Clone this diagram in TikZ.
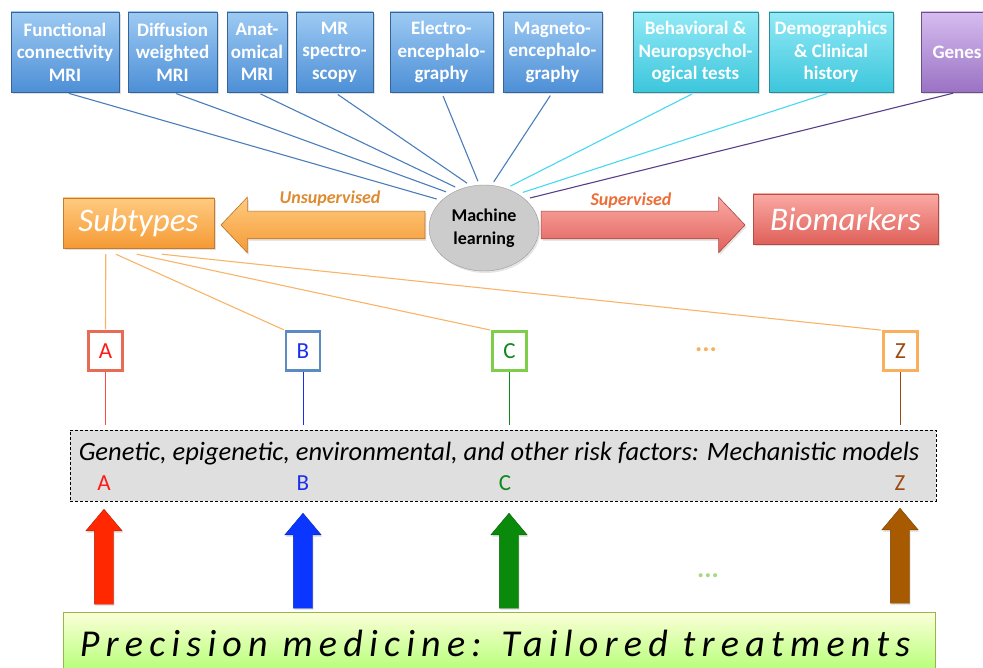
\documentclass[tikz,border=0pt]{standalone}
\usepackage{fontspec}
\setmainfont{Carlito}
\usetikzlibrary{shapes.geometric,shapes.arrows,shadows}

\definecolor{srcblue}{HTML}{4D8FD6}
\definecolor{srcbluelt}{HTML}{9DCAF3}
\definecolor{srccyan}{HTML}{3CC6DC}
\definecolor{srccyanlt}{HTML}{92EAF6}
\definecolor{srcpurple}{HTML}{9A72C4}
\definecolor{srcpurplelt}{HTML}{D6BCEF}
\definecolor{subor}{HTML}{F59A35}
\definecolor{suborlt}{HTML}{FFCB80}
\definecolor{biored}{HTML}{E0605A}
\definecolor{bioredlt}{HTML}{FBA9A3}
\definecolor{linkblue}{HTML}{4A7EBB}
\definecolor{linkcyan}{HTML}{45D8F0}
\definecolor{linkpurple}{HTML}{5A3E8A}
\definecolor{linkorange}{HTML}{F8B468}
\definecolor{colA}{HTML}{FF1A1A}
\definecolor{colB}{HTML}{1A2EF0}
\definecolor{colC}{HTML}{10881A}
\definecolor{colZ}{HTML}{9A4A10}
\definecolor{arrA}{HTML}{FF2800}
\definecolor{arrB}{HTML}{0A36FF}
\definecolor{arrC}{HTML}{0A8A0A}
\definecolor{arrZ}{HTML}{A85A00}

\tikzset{
  srcbox/.style={rectangle, draw=#1!70!black, line width=0.5pt,
    inner sep=0pt, minimum height=80, text=white, align=center,
    font=\fontsize{19}{22.5}\selectfont\bfseries,
    drop shadow={shadow xshift=1.5pt, shadow yshift=-2pt, opacity=0.25}},
  blue src/.style={srcbox=srcblue, top color=srcbluelt, bottom color=srcblue},
  cyan src/.style={srcbox=srccyan, top color=srccyanlt, bottom color=srccyan},
  purple src/.style={srcbox=srcpurple, top color=srcpurplelt, bottom color=srcpurple},
  mlnode/.style={ellipse, draw=gray!80, fill=gray!40, inner sep=0pt,
    minimum width=110, minimum height=86, align=center,
    font=\fontsize{18}{23}\selectfont\bfseries,
    drop shadow={shadow xshift=1.5pt, shadow yshift=-2pt, opacity=0.2}},
  outbox/.style={rectangle, inner sep=0pt, minimum height=50, text=white,
    font=\fontsize{33}{36}\selectfont\itshape,
    drop shadow={shadow xshift=1.5pt, shadow yshift=-2pt, opacity=0.25}},
  bigarrow/.style={single arrow, inner xsep=0pt, inner ysep=13.5pt,
    single arrow head extend=14pt, single arrow tip angle=93,
    minimum height=204, line width=0.6pt,
    drop shadow={shadow xshift=1.5pt, shadow yshift=-2pt, opacity=0.2}},
  arrowlabel/.style={font=\fontsize{18}{20}\selectfont\bfseries\itshape},
  typebox/.style={rectangle, draw=#1, line width=2.5pt, fill=white,
    minimum width=34, minimum height=39, inner sep=0pt,
    font=\fontsize{23}{25}\selectfont},
  typeletter/.style={font=\fontsize{23}{25}\selectfont},
  uparrow/.style={single arrow, shape border rotate=90, fill=#1,
    draw=#1!70!black, line width=0.4pt, inner xsep=9.5pt, inner ysep=0pt,
    single arrow head extend=8.5pt, single arrow tip angle=80,
    minimum height=95,
    drop shadow={shadow xshift=1pt, shadow yshift=-2pt, opacity=0.2}},
  dots/.style={font=\fontsize{27}{28}\selectfont\bfseries}
}

\begin{document}
\begin{tikzpicture}[x=1pt,y=-1pt]
\useasboundingbox (0,0) rectangle (983,668);

% data sources
\node[blue src, minimum width=108] (fcmri) at (65,52) {Functional\\connectivity\\MRI};
\node[blue src, minimum width=89] (dwmri) at (172.5,52) {Diffusion\\weighted\\MRI};
\node[blue src, minimum width=60] (anat) at (257,52) {Anat-\\omical\\MRI};
\node[blue src, minimum width=77] (mrs) at (334.5,52) {MR\\spectro-\\scopy};
\node[blue src, minimum width=103] (eeg) at (441.5,52) {Electro-\\encephalo-\\graphy};
\node[blue src, minimum width=99] (meg) at (552.5,52) {Magneto-\\encephalo-\\graphy};
\node[cyan src, minimum width=125] (behav) at (695.5,52) {Behavioral \&\\Neuropsychol-\\ogical tests};
\node[cyan src, minimum width=124] (demo) at (831,52) {Demographics\\\& Clinical\\history};
\node[purple src, minimum width=72] (genes) at (957,52) {Genes};

% machine learning
\node[mlnode] (ml) at (484,228) {Machine\\learning};

\draw[linkblue, line width=1.1pt, shorten <=4pt, shorten >=5pt] (fcmri.south) -- (ml.147);
\draw[linkblue, line width=1.1pt, shorten <=4pt, shorten >=5pt] (dwmri.south) -- (ml.134);
\draw[linkblue, line width=1.1pt, shorten <=4pt, shorten >=5pt] (anat.south) -- (ml.122);
\draw[linkblue, line width=1.1pt, shorten <=4pt, shorten >=5pt] (mrs.south) -- (ml.107);
\draw[linkblue, line width=1.1pt, shorten <=4pt, shorten >=4pt] (eeg.south) -- (ml.96);
\draw[linkblue, line width=1.1pt, shorten <=4pt, shorten >=4pt] (meg.south) -- (ml.80);
\draw[linkcyan, line width=1.1pt, shorten <=4pt, shorten >=5pt] (behav.south) -- (ml.61);
\draw[linkcyan, line width=1.1pt, shorten <=4pt, shorten >=5pt] (demo.south) -- (ml.45);
\draw[linkpurple, line width=1.1pt, shorten <=4pt, shorten >=5pt] (genes.south) -- (ml.35);

% outputs
\node[bigarrow, shape border rotate=180, draw=subor!75!black,
  top color=suborlt, bottom color=subor] (unsup) at (329.5,225) {};
\node[bigarrow, draw=biored!75!black,
  top color=bioredlt, bottom color=biored] (sup) at (636.5,225) {};
\node[arrowlabel, text=subor!90!black] (unsuplbl) at (330,199) {Unsupervised};
\node[arrowlabel, text=biored!60!orange] (suplbl) at (631,201) {Supervised};
\node[outbox, minimum width=151, draw=subor!80!black,
  top color=suborlt, bottom color=subor] (sub) at (138.5,223) {Subtypes};
\node[outbox, minimum width=185, draw=biored!80!black,
  top color=bioredlt, bottom color=biored] (bio) at (845.5,219) {Biomarkers};

% subtypes
\node[typebox=colA!55!brown!80!white, text=colA] (ta) at (105.5,351) {A};
\node[typebox=linkblue!90, text=colB] (tb) at (303,351) {B};
\node[typebox=green!45!olive!70!white, text=colC] (tc) at (509.5,351) {C};
\node[dots, text=linkorange!90!orange] (tdots) at (706,350) {...};
\node[typebox=linkorange!90!orange, text=colZ] (tz) at (900.5,351) {Z};

\draw[linkorange, line width=1.1pt, shorten >=1pt] ([xshift=43pt,yshift=-6pt]sub.south west) -- (ta.north);
\draw[linkorange, line width=1.1pt, shorten >=1pt] ([xshift=53pt,yshift=-6pt]sub.south west) -- (tb.north west);
\draw[linkorange, line width=1.1pt, shorten >=1pt] ([xshift=74pt,yshift=-6pt]sub.south west) -- (tc.north west);
\draw[linkorange, line width=1.1pt, shorten >=1pt] ([xshift=99pt,yshift=-6pt]sub.south west) -- (tz.north west);

% risk factors
\node[rectangle, draw=black, fill=gray!25, line width=0.7pt,
  dash pattern=on 3pt off 2pt, minimum width=866, minimum height=71,
  inner sep=0pt] (risk) at (503,465.5) {};
\node[font=\fontsize{26.5}{28}\selectfont\itshape] (risktxt) at (499,454)
  {Genetic, epigenetic, environmental, and other risk factors: Mechanistic models};
\node[typeletter, text=colA] (ra) at (104,483) {A};
\node[typeletter, text=colB] (rb) at (303,483) {B};
\node[typeletter, text=colC] (rc) at (505,483) {C};
\node[typeletter, text=colZ] (rz) at (900,483) {Z};

\draw[colA!80!white, line width=1pt, shorten >=5pt] (ta.south) -- (ta.south |- risk.north);
\draw[colB, line width=1pt, shorten >=5pt] (tb.south) -- (tb.south |- risk.north);
\draw[colC, line width=1pt, shorten >=5pt] (tc.south) -- (tc.south |- risk.north);
\draw[colZ, line width=1pt, shorten >=5pt] (tz.south) -- (tz.south |- risk.north);

% treatments
\node[uparrow=arrA] (pa) at (104,562.5) {};
\node[uparrow=arrB] (pb) at (303,566.5) {};
\node[uparrow=arrC] (pc) at (509,566.5) {};
\node[dots, text=green!40!olive!50!white] (pdots) at (708,576) {...};
\node[uparrow=arrZ] (pz) at (900,561.5) {};

\node[rectangle, draw=olive!60!green!70!white, line width=0.5pt,
  top color=green!8!yellow!15!white, bottom color=green!55!yellow!55!white,
  minimum width=872, minimum height=62, inner sep=0pt] (prec) at (499,643) {};
\node[font=\fontsize{38}{42}\selectfont\itshape\addfontfeature{LetterSpace=16.5}]
  (prectxt) at (495,643) {Precision medicine: Tailored treatments};
\end{tikzpicture}
\end{document}
